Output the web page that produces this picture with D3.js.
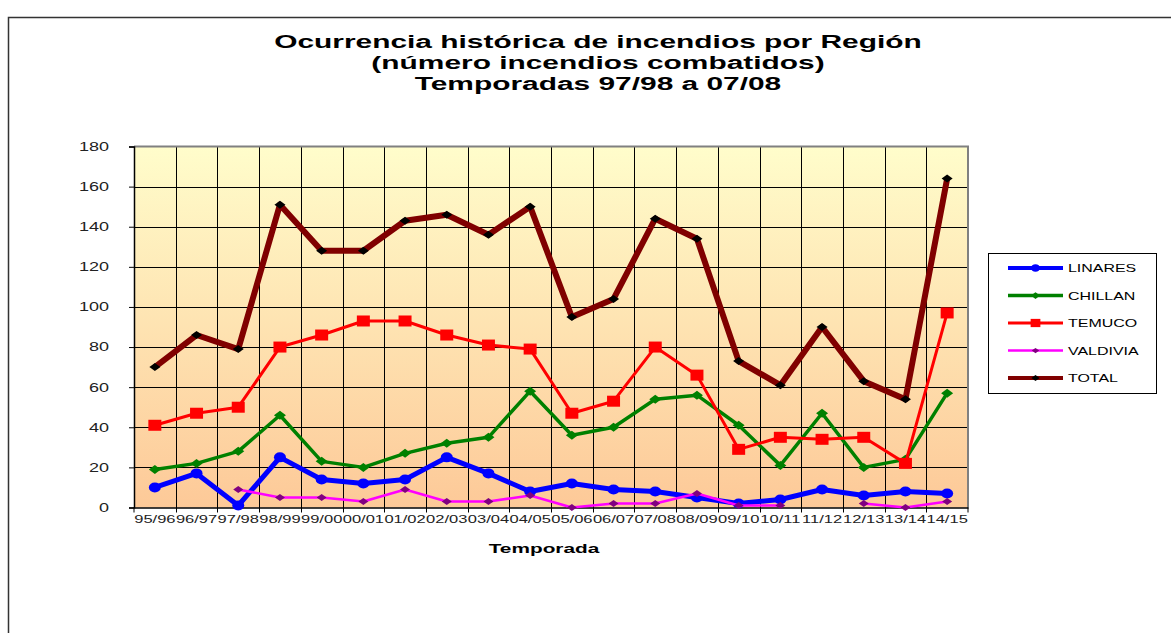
<!DOCTYPE html>
<html>
<head>
<meta charset="utf-8">
<script src="https://cdnjs.cloudflare.com/ajax/libs/d3/7.8.5/d3.min.js"></script>
<style>
  body { margin: 0; background: #fff; }
  svg { display: block; font-family: Arial, "Liberation Sans", sans-serif; }
</style>
</head>
<body>
<div id="chart"></div>
<script>
// temporadas
const seasons = ["95/96", "96/97", "97/98", "98/99", "99/00", "00/01", "01/02", "02/03", "03/04", "04/05",
  "05/06", "06/07", "07/08", "08/09", "09/10", "10/11", "11/12", "12/13", "13/14", "14/15"];

const linares  = [10, 17, 1, 25, 14, 12, 14, 25, 17, 8, 12, 9, 8, 5, 2, 4, 9, 6, 8, 7];
const chillan  = [19, 22, 28, 46, 23, 20, 27, 32, 35, 58, 36, 40, 54, 56, 41, 21, 47, 20, 24, 57];
const temuco   = [41, 47, 50, 80, 86, 93, 93, 86, 81, 79, 47, 53, 80, 66, 29, 35, 34, 35, 22, 97];
const valdivia = [null, null, 9, 5, 5, 3, 9, 3, 3, 6, 0, 2, 2, 7, 1, 1, null, 2, 0, 3];
const total    = [70, 86, 79, 151, 128, 128, 143, 146, 136, 150, 95, 104, 144, 134, 73, 61, 90, 63, 54, 164];

const yTicks = [0, 20, 40, 60, 80, 100, 120, 140, 160, 180];
const titleLines = ["Ocurrencia histórica de incendios por Región", "(número incendios combatidos)", "Temporadas 97/98 a 07/08"];

const series = [
  { name: "LINARES",  values: linares,  color: "#0000ff", width: 5,   marker: "circle",  mfill: "#0000ff", mw: 12, mh: 10 },
  { name: "CHILLAN",  values: chillan,  color: "#008000", width: 3.5, marker: "diamond", mfill: "#008000", mw: 12, mh: 9 },
  { name: "TEMUCO",   values: temuco,   color: "#ff0000", width: 3,   marker: "square",  mfill: "#ff0000", mw: 13, mh: 11 },
  { name: "VALDIVIA", values: valdivia, color: "#ff00ff", width: 2.5, marker: "diamond", mfill: "#800080", mw: 10, mh: 7 },
  { name: "TOTAL",    values: total,    color: "#800000", width: 6,   marker: "diamond", mfill: "#000000", mw: 11, mh: 8 }
];

const W = 1171, H = 633;
const plot = { left: 134, right: 968, top: 146.5, bottom: 507.5 };

const svg = d3.select("#chart").append("svg").attr("width", W).attr("height", H);

// stretch text horizontally (the source is widened)
function stretch(sel, k) {
  sel.each(function () {
    const w = this.getComputedTextLength();
    d3.select(this).attr("textLength", w * k).attr("lengthAdjust", "spacingAndGlyphs");
  });
}

// frame
svg.append("path")
  .attr("d", `M8.5,${H} L8.5,17.5 L${W},17.5`)
  .style("fill", "none").style("stroke", "#333").style("stroke-width", 1.5);

// title
svg.append("g").selectAll("text")
  .data(titleLines)
  .join("text")
  .attr("x", 598)
  .attr("y", (d, i) => 48 + i * 21)
  .attr("text-anchor", "middle")
  .style("font-size", "18px")
  .style("font-weight", "bold")
  .style("fill", "#000")
  .text(d => d)
  .call(stretch, 1.66);

const x = d3.scaleBand().domain(seasons).range([plot.left, plot.right]);
const y = d3.scaleLinear().domain([0, 180]).range([plot.bottom, plot.top]);

// background gradient
const grad = svg.append("defs").append("linearGradient")
  .attr("id", "bg").attr("x1", 0).attr("y1", 0).attr("x2", 0).attr("y2", 1);
grad.append("stop").attr("offset", "0%").attr("stop-color", "#fffdcb");
grad.append("stop").attr("offset", "100%").attr("stop-color", "#fdc998");

svg.append("rect")
  .attr("x", plot.left).attr("y", plot.top)
  .attr("width", plot.right - plot.left).attr("height", plot.bottom - plot.top)
  .style("fill", "url(#bg)");

// grid
const grid = svg.append("g");
grid.selectAll(".hgrid")
  .data(yTicks.filter(d => d > 0 && d < 180))
  .join("line")
  .attr("x1", plot.left).attr("x2", plot.right)
  .attr("y1", d => Math.round(y(d)) + 0.5).attr("y2", d => Math.round(y(d)) + 0.5)
  .style("stroke", "#000").style("stroke-width", 1);

grid.selectAll(".vgrid")
  .data(seasons.slice(1))
  .join("line")
  .attr("x1", d => Math.round(x(d)) + 0.5).attr("x2", d => Math.round(x(d)) + 0.5)
  .attr("y1", plot.top).attr("y2", plot.bottom + 5)
  .style("stroke", "#000").style("stroke-width", 1);

// top / right border
svg.append("path")
  .attr("d", `M${plot.left},${plot.top} L${plot.right},${plot.top} L${plot.right},${plot.bottom}`)
  .style("fill", "none").style("stroke", "#808080").style("stroke-width", 2);

// y axis
const yAxis = svg.append("g")
  .attr("transform", `translate(${plot.left},0)`)
  .call(d3.axisLeft(y).tickValues(yTicks).tickSize(5).tickPadding(20));
yAxis.select(".domain").style("stroke", "#000").style("stroke-width", 1.5);
yAxis.selectAll(".tick line").style("stroke", "#000");
yAxis.selectAll(".tick text")
  .style("font-size", "12px").style("fill", "#222").style("font-family", "Arial, 'Liberation Sans', sans-serif")
  .call(stretch, 1.5);

// x axis
const xAxis = svg.append("g")
  .attr("transform", `translate(0,${plot.bottom})`)
  .call(d3.axisBottom(x).tickSize(0));
xAxis.select(".domain").style("stroke", "#000").style("stroke-width", 1.5);
xAxis.selectAll(".tick text")
  .attr("dy", null).attr("y", 15.5)
  .style("font-size", "11px").style("fill", "#222").style("font-family", "Arial, 'Liberation Sans', sans-serif")
  .call(stretch, 1.5);
xAxis.selectAll(".edge")
  .data([plot.left, plot.right])
  .join("line")
  .attr("x1", d => d).attr("x2", d => d).attr("y1", 0).attr("y2", 5)
  .style("stroke", "#000");

svg.append("text")
  .attr("x", 544).attr("y", 553)
  .attr("text-anchor", "middle")
  .style("font-size", "13px").style("font-weight", "bold")
  .text("Temporada")
  .call(stretch, 1.6);

// markers
function markerPath(type, w, h) {
  if (type === "diamond") return `M0,${-h / 2} L${w / 2},0 L0,${h / 2} L${-w / 2},0 Z`;
  if (type === "square") return `M${-w / 2},${-h / 2} h${w} v${h} h${-w} Z`;
  const rx = w / 2, ry = h / 2;
  return `M${-rx},0 a${rx},${ry} 0 1,0 ${2 * rx},0 a${rx},${ry} 0 1,0 ${-2 * rx},0 Z`;
}

const cx = d => x(d) + x.bandwidth() / 2;
const line = d3.line()
  .defined(d => d.v !== null)
  .x(d => cx(d.s))
  .y(d => y(d.v));

const marks = svg.append("g");
series.forEach(s => {
  const pts = s.values.map((v, i) => ({ s: seasons[i], v }));
  const g = marks.append("g");
  g.append("path")
    .attr("d", line(pts))
    .style("fill", "none")
    .style("stroke", s.color)
    .style("stroke-width", s.width)
    .style("stroke-linejoin", "round");
  g.selectAll(".m")
    .data(pts.filter(d => d.v !== null))
    .join("path")
    .attr("transform", d => `translate(${cx(d.s)},${y(d.v)})`)
    .attr("d", markerPath(s.marker, s.mw, s.mh))
    .style("fill", s.mfill);
});

// legend
const legend = svg.append("g");
legend.append("rect")
  .attr("x", 988.5).attr("y", 253.5).attr("width", 168).attr("height", 140)
  .style("fill", "#fff").style("stroke", "#000").style("stroke-width", 1);

const items = legend.selectAll(".item")
  .data(series)
  .join("g")
  .attr("transform", (d, i) => `translate(0,${268 + i * 27.5})`);
items.append("line")
  .attr("x1", 1008).attr("x2", 1063).attr("y1", 0).attr("y2", 0)
  .style("stroke", d => d.color)
  .style("stroke-width", d => Math.min(d.width, 4));
items.append("path")
  .attr("transform", "translate(1035.5,0)")
  .attr("d", d => markerPath(d.marker, d.mw * 0.75, d.mh * 0.75))
  .style("fill", d => d.mfill);
items.append("text")
  .attr("x", 1068).attr("y", 4)
  .style("font-size", "11px").style("fill", "#000")
  .text(d => d.name)
  .call(stretch, 1.45);
</script>
</body>
</html>
